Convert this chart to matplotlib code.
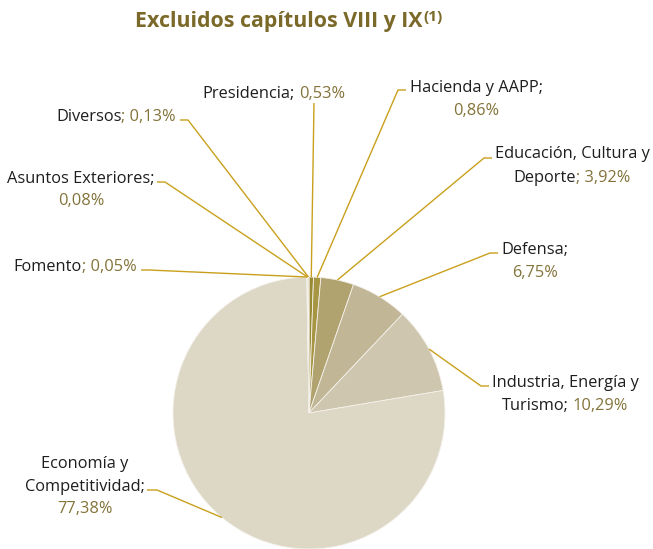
import math
import matplotlib
matplotlib.use('Agg')
import matplotlib.pyplot as plt

W, H = 653, 549

# ---- data ----
departments = ["Presidencia", "Hacienda y AAPP", "Educación, Cultura y Deporte", "Defensa",
               "Industria, Energía y Turismo", "Economía y Competitividad",
               "Fomento", "Asuntos Exteriores", "Diversos"]
shares = [0.53, 0.86, 3.92, 6.75, 10.29, 77.38, 0.05, 0.08, 0.13]
title_text = "Excluidos capítulos VIII y IX"
title_note = "(1)"

# ---- style ----
colors = ['#9b8a34', '#a69542', '#b1a370', '#c1b696', '#cec6af', '#ddd7c6',
          '#d3cbb0', '#cbc29c', '#c0b47e']
K = '#1e1e1e'
O = '#83733a'
LINE = '#c9a01c'
TITLE = '#7a6928'
FONT = ['Open Sans', 'DejaVu Sans']


def pct(v):
    return f"{v:.2f}".replace('.', ',') + '%'


fig = plt.figure(figsize=(W / 100, H / 100), dpi=100)
ax = fig.add_axes([0, 0, 1, 1])
wedges, _ = ax.pie(shares, colors=colors, startangle=90, counterclock=False,
                   center=(309, H - 413), radius=136,
                   wedgeprops=dict(edgecolor='#f4f1ea', linewidth=0.6))
ax.set_xlim(0, W)
ax.set_ylim(0, H)
ax.set_aspect('equal')
ax.axis('off')

renderer = fig.canvas.get_renderer()


def text_width(s, **kw):
    t = ax.text(0, 0, s, **kw)
    w = t.get_window_extent(renderer).width
    t.remove()
    return w


# fit label font size so a reference label has the picture's width
FS = 11.0 * 142 / text_width("Presidencia; 0,53%", fontsize=11.0, family=FONT)
LKW = dict(fontsize=FS, family=FONT, va='baseline')
SPACE = text_width("x x", **LKW) - text_width("xx", **LKW)


def draw_line(cx, yb, parts):
    if len(parts) == 1:
        ax.text(cx, H - yb, parts[0][0], ha='center', color=parts[0][1], **LKW)
        return
    a, b = parts[0][0], parts[1][0]
    gap = SPACE if b.startswith(' ') else 0.0
    b = b.lstrip(' ')
    wa = text_width(a, **LKW)
    wb = text_width(b, **LKW)
    x0 = cx - (wa + gap + wb) / 2
    ax.text(x0, H - yb, a, ha='left', color=parts[0][1], **LKW)
    ax.text(x0 + wa + gap, H - yb, b, ha='left', color=parts[1][1], **LKW)


v = [pct(s) for s in shares]
# label layout: (cx, [baselines], lines, elbow points in pixel coords)
layout = [
    (274, [98], [[("Presidencia;", K), (" " + v[0], O)]], [(314, 103)]),
    (476, [92, 115], [[("Hacienda y AAPP;", K)], [(v[1], O)]], [(406, 90), (398, 90)]),
    (572, [158, 182], [[("Educación, Cultura y", K)], [("Deporte", K), ("; " + v[2], O)]],
     [(492, 158), (484, 158)]),
    (535, [254, 277], [[("Defensa;", K)], [(v[3], O)]], [(498, 253), (490, 253)]),
    (565, [387, 410], [[("Industria, Energía y", K)], [("Turismo;", K), (" " + v[4], O)]],
     [(489, 386), (481, 386)]),
    (85, [468, 491, 513], [[("Economía y", K)], [("Competitividad;", K)], [(v[5], O)]],
     [(147, 490), (157, 490)]),
    (75, [271], [[("Fomento", K), ("; " + v[6], O)]], [(141, 270), (149, 270)]),
    (81, [183, 205], [[("Asuntos Exteriores;", K)], [(v[7], O)]], [(157, 182), (165, 182)]),
    (116, [121], [[("Diversos", K), ("; " + v[8], O)]], [(180, 120), (188, 120)]),
]

for wdg, (cx, ybs, lines, elbow) in zip(wedges, layout):
    for yb, parts in zip(ybs, lines):
        draw_line(cx, yb, parts)
    mid = math.radians((wdg.theta1 + wdg.theta2) / 2)
    cxp, cyp = wdg.center
    ex = cxp + wdg.r * math.cos(mid)
    ey = cyp + wdg.r * math.sin(mid)
    xs = [p[0] for p in elbow] + [ex]
    ys = [H - p[1] for p in elbow] + [ey]
    ax.plot(xs, ys, color=LINE, lw=1.0, solid_capstyle='butt')

# title (fit to the picture's width)
base = dict(family=FONT, fontweight='bold', color=TITLE, va='baseline')
TFS = 14.0 * 290 / text_width(title_text, fontsize=14.0, **base)
tw = text_width(title_text, fontsize=TFS, **base)
ax.text(135, H - 27, title_text, ha='left', fontsize=TFS, **base)
ax.text(135 + tw + 1, H - 21, title_note, ha='left', fontsize=TFS * 0.72, **base)

fig.savefig('out.png', dpi=100)
